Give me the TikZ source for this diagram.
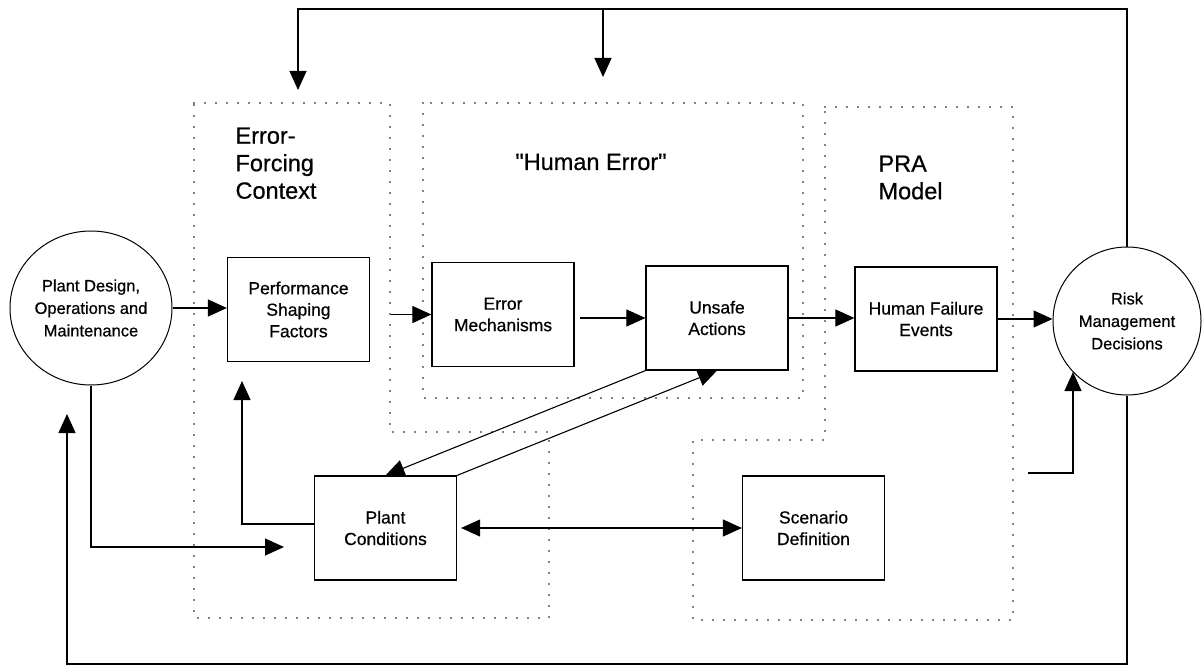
\documentclass[tikz,border=0pt]{standalone}
\usepackage{fontspec}
\setmainfont{Liberation Sans}[FakeBold=0.6]
\usetikzlibrary{arrows.meta,shapes.geometric,calc}
\begin{document}
\begin{tikzpicture}[x=1pt,y=-1pt,
  line width=1.1pt,
  box/.style={draw, line width=1.2pt, minimum width=142pt, minimum height=104pt,
              inner sep=2pt, align=center, font=\fontsize{17.5}{21.5}\selectfont},
  disc/.style={draw, ellipse, line width=1pt, inner sep=0pt, align=center,
              font=\fontsize{16.5}{22.5}\selectfont},
  title/.style={inner sep=0pt, align=left, font=\fontsize{23.5}{27.5}\selectfont},
  zone/.style={line width=1.6pt, dash pattern=on 0pt off 11pt, line cap=round},
  arr/.style={-{Triangle[length=19pt,width=17pt]}},
  arr2/.style={{Triangle[length=19pt,width=17pt]}-{Triangle[length=19pt,width=17pt]}},
]
\useasboundingbox (0,0) rectangle (1202,666);

% dotted zones
\draw[zone] (194,103) -- (390,103) -- (390,432) -- (549,432) -- (549,618) -- (194,618) -- cycle;
\draw[zone] (423,103) rectangle (803,398);
\draw[zone] (825,107) -- (1013,107) -- (1013,620) -- (693,620) -- (693,440) -- (825,440) -- cycle;

% zone titles
\node[title, anchor=north west] (efcT) at (235,127) {Error-\\Forcing\\Context};
\node[title] (heT) at (591,162) {\textquotedbl Human Error\textquotedbl};
\node[title, anchor=north west] (praT) at (878,155) {PRA\\Model};

% boxes
\node[box] (psf) at (298.5,309.5) {Performance\\Shaping\\Factors};
\node[box] (em)  at (503,314.5) {Error\\Mechanisms};
\node[box] (ua)  at (717,318) {Unsafe\\Actions};
\node[box] (hfe) at (926,319) {Human Failure\\Events};
\node[box] (pc)  at (385.5,528) {Plant\\Conditions};
\node[box] (sd)  at (813.5,528) {Scenario\\Definition};

% circles
\node[disc, minimum width=162pt, minimum height=154pt] (pdom) at (91,308)
  {Plant Design,\\Operations and\\Maintenance};
\node[disc, minimum width=148pt, minimum height=148pt] (rmd) at (1127,321)
  {Risk\\Management\\Decisions};

% free ends of feedback arrows
\coordinate (topR)  at (1127,9);
\coordinate (efcIn) at (298,90);
\coordinate (heIn)  at (603,77);
\coordinate (botR)  at (1127,664);
\coordinate (pdIn)  at (67,414);
\coordinate (pcIn)  at (284,547);
\coordinate (psfIn) at (242,381);
\coordinate (rmdFeed) at (1028,473);
\coordinate (rmdIn) at (1073,372);

% main chain
\draw[arr] (pdom.east) -- (pdom.east -| psf.west);
\draw[arr, shorten <=21pt] (psf.east |- em.west) -- (em.west);
\draw[arr, shorten <=5pt] (em.east |- ua.west) -- (ua.west);
\draw[arr] (ua.east) -- (ua.east -| hfe.west);
\draw[arr] (hfe.east) -- (hfe.east -| rmd.west);

% feedback from risk decisions
\draw[arr] (rmd.north) -- (topR) -| (efcIn);
\draw[arr] (heIn |- topR) -- (heIn);
\draw[arr] (rmd.south) -- (botR) -| (pdIn);

% plant links
\draw[arr] (pdom.south) |- (pcIn);
\draw[arr] ([yshift=4pt]pc.west) -| (psfIn);
\draw[arr2, shorten <=4pt] (pc.east) -- (sd.west);
\draw[arr] (ua.south west) -- (pc.north);
\draw[arr] (pc.north east) -- (ua.south);
\draw[arr] (rmdFeed) -| (rmdIn);
\end{tikzpicture}
\end{document}
